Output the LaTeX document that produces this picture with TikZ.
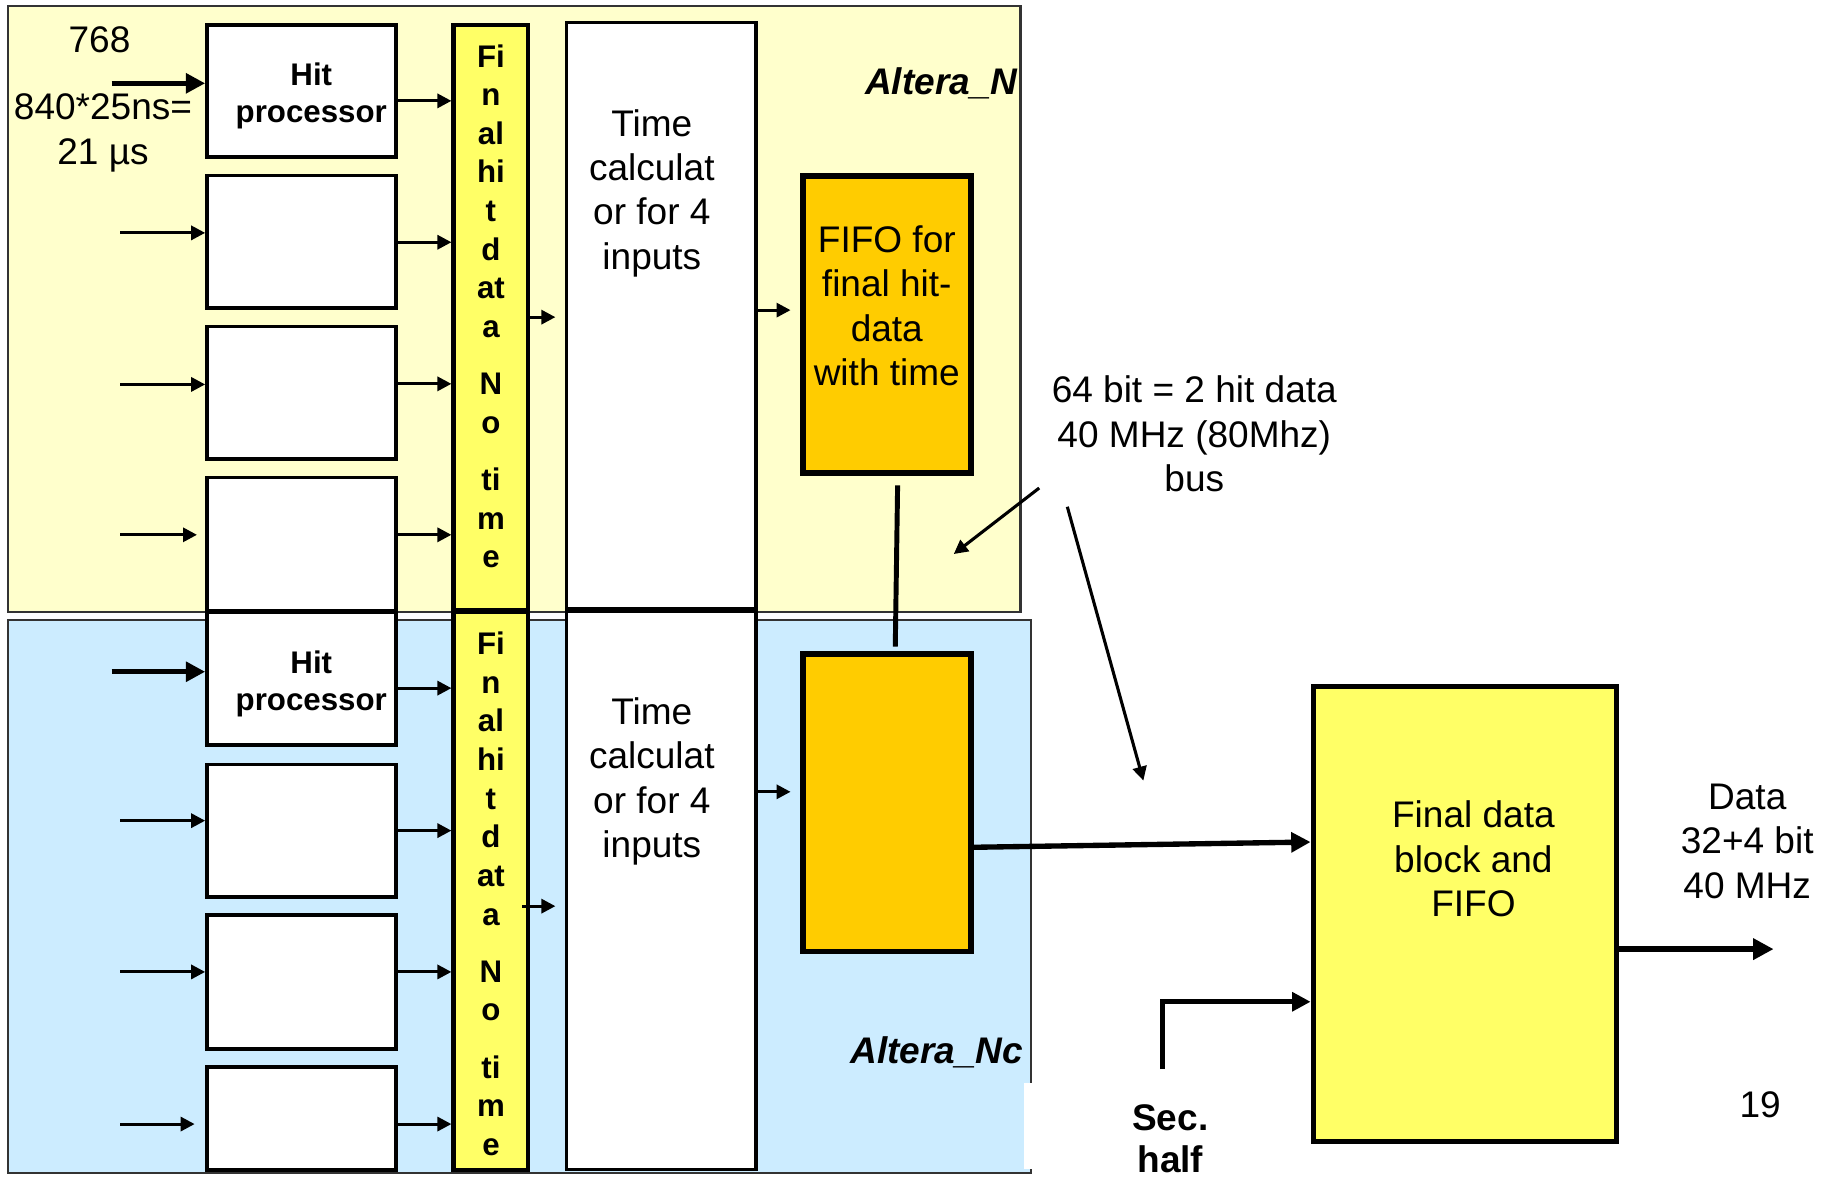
\documentclass[tikz,border=0pt]{standalone}
\usepackage{fontspec}
\setmainfont{Liberation Sans}
\usepackage{xcolor}
\definecolor{alteraYellow}{RGB}{255,255,204}
\definecolor{alteraBlue}{RGB}{204,236,255}
\definecolor{barYellow}{RGB}{255,255,102}
\definecolor{fifoOrange}{RGB}{255,204,0}
\definecolor{regionFrame}{RGB}{51,51,51}
\usepackage{tikz}
\usetikzlibrary{arrows.meta,positioning}

\newcommand{\plainfont}{\fontsize{9}{10.8}\selectfont}
\newcommand{\barfont}{\fontsize{7.6}{9.4}\selectfont\bfseries}

\tikzset{
  hitbox/.style={draw, line width=0.95pt, fill=white, minimum width=1.61cm, inner sep=0pt},
  barbox/.style={draw, line width=1pt, fill=barYellow, minimum width=0.64cm, inner sep=0pt},
  calcbox/.style={draw, line width=0.8pt, fill=white, minimum width=1.62cm, inner sep=0pt},
  fifobox/.style={draw, line width=1.4pt, fill=fifoOrange, minimum width=1.435cm, minimum height=2.54cm, inner sep=0pt},
  finalbox/.style={draw, line width=1.2pt, fill=barYellow, minimum width=2.595cm, minimum height=3.89cm, inner sep=0pt},
  plaintext/.style={font=\plainfont, align=center, inner sep=0pt},
  hittext/.style={font=\fontsize{7.6}{9.1}\selectfont\bfseries, align=center, inner sep=0pt},
  bartext/.style={font=\barfont, align=center, inner sep=0pt},
  altlabel/.style={font=\fontsize{9}{10.8}\selectfont\bfseries\itshape, anchor=east, inner sep=0pt},
  arr/.style={line width=0.75pt, -{Triangle[length=1.6pt 2.4, width=1.6pt 2.4]}},
}

\begin{document}
\begin{tikzpicture}[y=-1cm]
  \useasboundingbox (0,0) rectangle (15.68,10.05);
  \draw[regionFrame, line width=0.5pt, fill=alteraYellow] (0.072,0.051) rectangle (8.72,5.227);
  \draw[regionFrame, line width=0.5pt, fill=alteraBlue] (0.072,5.298) rectangle (8.807,10.025);
  \fill[white] (8.75,9.256) rectangle (8.84,9.99);

  \foreach \i/\y/\h in {1/0.777/1.13, 2/2.065/1.13, 3/3.355/1.13, 4/4.65/1.14,
                        5/5.7975/1.13, 6/7.0975/1.13, 7/8.39/1.14, 8/9.555/0.88}
    \node[hitbox, minimum height=\h cm] (h\i) at (2.575,\y) {};
  \node[hittext] at ([xshift=0.085cm,yshift=-0.045cm]h1.center) {Hit\\processor};
  \node[hittext] at ([xshift=0.085cm,yshift=-0.045cm]h5.center) {Hit\\processor};

  \node[barbox, minimum height=5.0cm] (fb1) at (4.195,2.71) {};
  \node[barbox, minimum height=4.77cm] (fb2) at (4.195,7.615) {};
  \node[calcbox, minimum height=5.005cm] (tc1) at (5.65,2.6975) {};
  \node[calcbox, minimum height=4.775cm] (tc2) at (5.65,7.6075) {};
  \foreach \g in {1,2} {
    \node[bartext] at ([yshift=-2.425cm]fb\g.north) {Fi\\n\\al\\hi\\t\\d\\at\\a\\[4.5pt]N\\o\\[4.5pt]ti\\m\\e};
    \node[plaintext] at ([xshift=-0.08cm,yshift=-1.47cm]tc\g.north) {Time\\calculat\\or for 4\\inputs};
  }

  \node[fifobox] (ff1) at (7.5775,2.7725) {};
  \node[fifobox] (ff2) at (7.5775,6.86) {};
  \node[plaintext] at ([yshift=0.16cm]ff1.center) {FIFO for\\final hit-\\data\\with time};
  \node[finalbox] (fin) at (12.5175,7.81) {};
  \node[plaintext] at ([xshift=0.0725cm,yshift=0.47cm]fin.center) {Final data\\block and\\FIFO};

  \node[altlabel] (altN) at (8.70,0.71) {Altera\_N};
  \node[altlabel] (altNc) at (8.75,8.99) {Altera\_Nc};
  \node[plaintext] (nin) at (0.85,0.34) {768};
  \node[plaintext] (tin) at (0.88,1.135) {840*25ns=\\21 µs};
  \node[plaintext] (buslbl) at (10.205,3.71) {64 bit = 2 hit data\\40 MHz (80Mhz)\\bus};
  \node[plaintext] (datalbl) at (14.93,7.19) {Data\\32+4 bit\\40 MHz};
  \node[plaintext, font=\fontsize{9}{10.4}\selectfont\bfseries] (sechalf) at (10.0,9.73) {Sec.\\half};
  \node[plaintext] (pagenum) at (15.04,9.44) {19};

  \foreach \i/\g/\w/\s/\e/\a/\b in {1/1/1.3/0.80/0/0.065/-0.085, 2/1/0.75/0.724/0/0.075/-0.005,
      3/1/0.75/0.724/0/0.07/0.075, 4/1/0.75/0.724/0.07/0.08/0.08,
      5/2/1.3/0.80/0/0.0575/-0.0825, 6/2/0.75/0.724/0/0.085/0,
      7/2/0.75/0.724/0/0.085/0.085, 8/2/0.75/0.724/0.09/-0.05/-0.05} {
    \draw[arr, line width=\w pt, shorten >=\e cm] ([xshift=-\s cm,yshift=\a cm]h\i.west) -- ([yshift=\a cm]h\i.west);
    \coordinate (o\i) at ([yshift=\b cm]h\i.east);
    \draw[arr] (o\i) -- (o\i -| fb\g.west);
  }

  \draw[arr, shorten >=0.08cm] (fb1.east) -- (fb1.east -| tc1.west);
  \coordinate (q2) at ([yshift=-0.128cm]fb2.east);
  \draw[arr, shorten <=-0.07cm, shorten >=0.08cm] (q2) -- (q2 -| tc2.west);
  \coordinate (p1) at ([yshift=0.0475cm]tc1.east);
  \draw[arr, shorten >=0.08cm] (p1) -- (p1 -| ff1.west);
  \coordinate (p2) at ([yshift=0.8415cm]tc2.east);
  \draw[arr, shorten >=0.08cm] (p2) -- (p2 -| ff2.west);

  \draw[line width=1.2pt] ([xshift=0.0925cm,yshift=-0.08cm]ff1.south) -- ([xshift=0.0725cm,yshift=0.04cm]ff2.north);
  \draw[arr, line width=1.3pt] ([yshift=-0.38cm]ff2.east) -- ([yshift=0.615cm]fin.west);

  \coordinate (shin) at (9.93,9.135);
  \draw[arr, line width=1.2pt] (shin) |- ([yshift=-0.75cm]fin.west);
  \coordinate (dout) at (15.155,8.11);
  \draw[arr, line width=1.4pt] ([yshift=-0.30cm]fin.east) -- (dout);

  \coordinate (bus1a) at (8.88,4.17);
  \coordinate (bus1b) at (8.15,4.734);
  \coordinate (bus2a) at (9.12,4.33);
  \coordinate (bus2b) at (9.77,6.67);
  \draw[arr] (bus1a) -- (bus1b);
  \draw[arr] (bus2a) -- (bus2b);
\end{tikzpicture}
\end{document}
